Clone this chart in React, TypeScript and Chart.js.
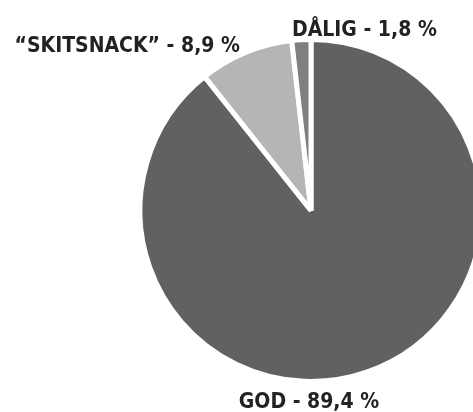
import React, { useEffect, useRef } from "react";
import { Chart, registerables } from "chart.js";

Chart.register(...registerables);

const categories = ["GOD", "“SKITSNACK”", "DÅLIG"];
const values = [89.4, 8.9, 1.8];
const valueLabels = ["89,4 %", "8,9 %", "1,8 %"];
const colors = ["#616161", "#b5b5b5", "#7f7f7f"];

const FONT = "bold 21px 'DejaVu Sans Condensed', 'DejaVu Sans', sans-serif";

const labelPlugin = {
  id: "sliceLabels",
  afterDraw(chart: any) {
    const meta = chart.getDatasetMeta(0);
    const arc = meta.data[0];
    if (!arc) return;
    const { x, y, outerRadius } = arc.getProps(["x", "y", "outerRadius"], true);
    const ctx = chart.ctx;
    ctx.save();
    ctx.font = FONT;
    ctx.fillStyle = "#222222";
    ctx.textBaseline = "alphabetic";
    const texts = categories.map((c, i) => `${c} - ${valueLabels[i]}`);
    ctx.textAlign = "center";
    ctx.fillText(texts[0], x - 2, y + outerRadius + 26);
    ctx.textAlign = "right";
    ctx.fillText(texts[1], x - 71, y - outerRadius + 12);
    ctx.textAlign = "left";
    ctx.fillText(texts[2], x - 19, y - outerRadius - 4);
    ctx.restore();
  },
};

export default function App() {
  const ref = useRef<HTMLCanvasElement>(null);
  useEffect(() => {
    document.body.style.overflow = "hidden";
    const canvas = ref.current!;
    const chart = new Chart(canvas, {
      type: "pie",
      data: {
        labels: categories,
        datasets: [
          {
            data: values,
            backgroundColor: colors,
            borderColor: "#ffffff",
            borderWidth: 5,
            hoverOffset: 0,
          },
        ],
      },
      options: {
        responsive: false,
        animation: false,
        layout: { padding: { top: 37, bottom: 28, left: 0, right: 0 } },
        plugins: {
          legend: { display: false },
          tooltip: { enabled: false },
        },
      },
      plugins: [labelPlugin],
    });
    return () => chart.destroy();
  }, []);
  return (
    <div
      style={{
        position: "fixed",
        left: 0,
        top: 0,
        width: 473,
        height: 412,
        overflow: "hidden",
        background: "#fff",
      }}
    >
      <canvas ref={ref} width={622} height={412} style={{ width: 622, height: 412, display: "block" }} />
    </div>
  );
}
